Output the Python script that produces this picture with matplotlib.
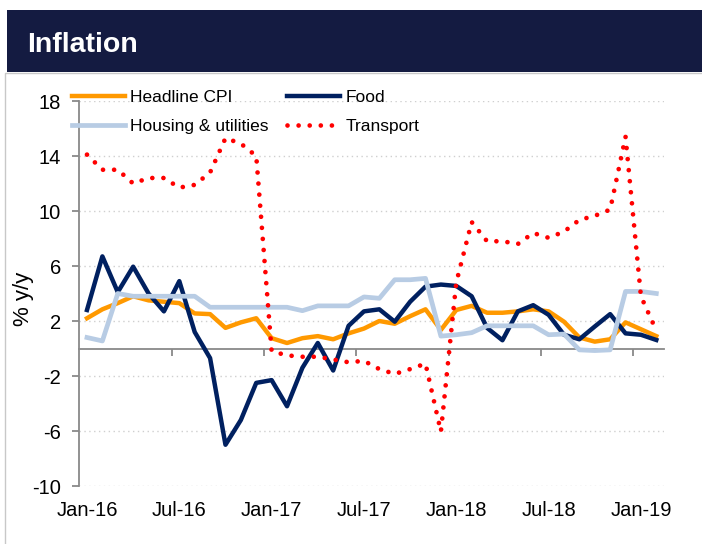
import matplotlib
matplotlib.use("Agg")
import matplotlib.pyplot as plt
from matplotlib import font_manager
from matplotlib.patches import Rectangle

plt.rcParams['font.family'] = ['Liberation Sans', 'DejaVu Sans']
plt.rcParams['axes.unicode_minus'] = False

# monthly data Jan-16 .. Feb-19 (38 months), % y/y
tick_labels = ['Jan-16', 'Jul-16', 'Jan-17', 'Jul-17', 'Jan-18', 'Jul-18', 'Jan-19']

headline = [2.2, 2.85, 3.3, 3.8, 3.5, 3.4, 3.3, 2.55, 2.5, 1.5, 1.9, 2.2,
            0.75, 0.4, 0.75, 0.9, 0.67, 1.1, 1.45, 2.0, 1.8, 2.35, 2.85, 1.35,
            2.8, 3.1, 2.6, 2.6, 2.7, 2.85, 2.7, 1.95, 0.8, 0.5, 0.67, 1.9,
            1.4, 0.9]
food = [2.8, 6.7, 4.1, 5.95, 4.0, 2.7, 4.9, 1.2, -0.7, -7.0, -5.2, -2.5,
        -2.3, -4.2, -1.4, 0.4, -1.6, 1.65, 2.7, 2.85, 1.95, 3.4, 4.5, 4.65,
        4.55, 3.8, 1.5, 0.6, 2.7, 3.15, 2.45, 1.0, 0.67, 1.6, 2.5, 1.1,
        1.0, 0.62]
housing = [0.8, 0.55, 4.0, 3.8, 3.8, 3.8, 3.8, 3.8, 3.0, 3.0, 3.0, 3.0,
           3.0, 3.0, 2.75, 3.1, 3.1, 3.1, 3.75, 3.65, 5.0, 5.0, 5.1, 0.9,
           1.0, 1.15, 1.65, 1.65, 1.65, 1.65, 1.0, 1.05, -0.1, -0.15, -0.1, 4.15,
           4.15, 4.0]
transport = [14.1, 13.0, 13.0, 12.0, 12.4, 12.4, 11.7, 11.9, 12.8, 15.3, 14.9, 14.0,
             -0.2, -0.5, -0.6, -0.6, -0.8, -1.0, -0.9, -1.5, -1.85, -1.5, -1.1, -6.05,
             4.8, 9.2, 7.8, 7.8, 7.6, 8.4, 8.05, 8.5, 9.35, 9.65, 10.1, 15.4,
             3.8, 1.3]

x = list(range(len(headline)))
gray = '#898989'

# narrow font for title/legend if there is one
names = {f.name for f in font_manager.fontManager.ttflist}
if 'Liberation Sans Narrow' in names:
    narrow, title_size, leg_size = 'Liberation Sans Narrow', 23, 14
else:
    narrow, title_size, leg_size = 'Liberation Sans', 20.5, 12.5

fig = plt.figure(figsize=(7.02, 5.44), dpi=100)
W, H = 702.0, 544.0

# outer frame + title banner
fig.patches.append(Rectangle((4.5 / W, -0.05), (W - 4.5) / W + 0.05, 1.05 - 73 / H,
                             transform=fig.transFigure, fill=False,
                             edgecolor='#C8C8C8', lw=1))
fig.patches.append(Rectangle((7 / W, 1 - 72 / H), 1, 62 / H,
                             transform=fig.transFigure, color='#141B41', lw=0))
fig.text(27 / W, 1 - 52 / H, 'Inflation', color='white', fontsize=title_size,
         fontweight='bold', va='baseline', ha='left', family=[narrow, 'DejaVu Sans'])

ax = fig.add_axes([79.3 / W, 1 - 486 / H, (664 - 79.3) / W, (486 - 101) / H])

l1, = ax.plot(x, headline, color='#FF9900', lw=3.2, label='Headline CPI')
l2, = ax.plot(x, food, color='#002060', lw=3.2, label='Food')
l3, = ax.plot(x, housing, color='#B8CCE4', lw=3.4, label='Housing & utilities')
l4, = ax.plot(x, transport, color='#FF0000', lw=3.4, linestyle=(0, (0.001, 2.35)),
              dash_capstyle='round', label='Transport')

ax.set_xlim(-0.5, len(x) - 0.5)
ax.set_ylim(-10, 18)
ax.set_yticks(range(-10, 19, 4))
ax.set_xticks(range(0, len(x), 6))
ax.set_xticklabels(tick_labels)
ax.grid(axis='y', color='#CFCFCF', linestyle=(0, (1, 2.5)), lw=1)
ax.set_axisbelow(True)

for s in ['top', 'right', 'bottom']:
    ax.spines[s].set_visible(False)
ax.spines['left'].set_color(gray)
ax.spines['left'].set_linewidth(1.3)
ax.tick_params(axis='y', direction='out', length=5, width=1.3, color=gray,
               labelsize=14.5, pad=8)
ax.tick_params(axis='x', length=0, labelsize=14.5, pad=11)
fig.text(24 / W, 1 - 299 / H, '% y/y', rotation=90, fontsize=16,
         ha='center', va='center')

# category axis drawn at zero
sec = ax.secondary_xaxis(10 / 28)
sec.set_xticks([b - 0.5 for b in range(6, len(x), 6)])
sec.tick_params(direction='out', length=5, width=1.3, color=gray, labelbottom=False)
sec.spines['bottom'].set_color(gray)
sec.spines['bottom'].set_linewidth(1.3)

# legend: columns placed by hand so the second column starts where the reference has it
for hs, x0 in (([l1, l3], 72), ([l2, l4], 287)):
    fig.legend(handles=hs, loc='upper left',
               bbox_to_anchor=(x0 / W, 1 - 90 / H), frameon=False,
               prop={'family': narrow, 'size': leg_size}, borderpad=0,
               borderaxespad=0, handlelength=53 / (leg_size * 100 / 72),
               handletextpad=0.3, labelspacing=0.8)

fig.savefig('out.png', dpi=100)
